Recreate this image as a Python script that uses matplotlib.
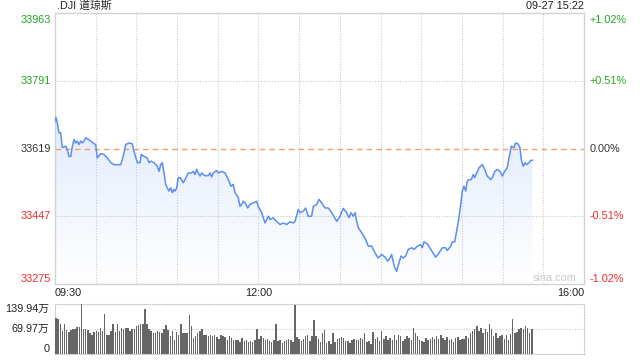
import numpy as np
import matplotlib.pyplot as plt
from matplotlib.colors import LinearSegmentedColormap

plt.rcParams['font.family'] = ['Liberation Sans', 'Noto Sans CJK SC', 'DejaVu Sans']

# --- data ---
title = '.DJI 道琼斯'
stamp = '09-27 15:22'
prev_close = 33619
price_ticks = [33963, 33791, 33619, 33447, 33275]
pct_labels = ['+1.02%', '+0.51%', '0.00%', '-0.51%', '-1.02%']
vol_ticks = [139.94, 69.97, 0]
vol_labels = ['139.94万', '69.97万', '0']
time_ticks = [0, 150, 390]
time_labels = ['09:30', '12:00', '16:00']

# minutes after 09:30
minutes = [0, 0.7, 1.7, 2.9, 4.2, 5.4, 7.9, 9.1, 10.3, 11.6, 12.8, 14.0, 15.3, 16.4, 17.7,
           18.9, 20.1, 21.4, 22.6, 23.8, 26.3, 28.8, 30.0, 31.2, 33.7, 36.1, 38.6, 41.1,
           43.5, 45.9, 48.4, 49.6, 50.9, 52.1, 54.6, 57.0, 58.2, 60.7, 62.7, 63.6, 65.6,
           68.0, 69.3, 70.6, 73.0, 75.4, 76.7, 77.9, 79.1, 80.4, 81.6, 82.8, 84.0, 85.3,
           86.5, 87.7, 88.5, 89.7, 90.9, 92.2, 94.6, 97.1, 98.3, 100.8, 102.0, 103.2,
           104.5, 105.6, 106.9, 108.2, 109.3, 110.6, 113.0, 114.3, 115.5, 116.7, 119.2,
           120.4, 122.9, 125.3, 127.8, 129.8, 131.4, 132.7, 135.1, 136.4, 137.6, 138.8,
           140.1, 142.1, 143.8, 146.2, 148.7, 149.9, 152.4, 154.8, 157.3, 158.5, 160.9,
           163.4, 165.9, 168.3, 170.8, 173.2, 175.7, 176.9, 179.4, 180.6, 183.1, 184.8,
           186.7, 189.2, 190.4, 192.9, 194.6, 196.6, 199.1, 201.5, 204.0, 207.7, 210.1,
           212.5, 215.0, 216.7, 218.2, 219.9, 221.2, 222.4, 223.6, 226.1, 228.5, 231.0,
           233.5, 235.9, 238.3, 240.9, 243.3, 245.3, 247.0, 248.2, 250.1, 251.9, 253.6,
           255.1, 256.8, 258.5, 260.5, 263.0, 264.9, 267.1, 269.6, 270.8, 272.0, 274.5,
           277.0, 279.4, 280.7, 283.1, 285.5, 288.0, 289.2, 291.7, 292.9, 294.7, 296.1,
           297.8, 299.1, 300.3, 301.5, 302.8, 303.9, 305.2, 306.9, 308.4, 309.4, 310.9,
           312.6, 315.0, 316.8, 318.7, 321.2, 322.4, 324.2, 326.1, 328.1, 329.8, 331.5,
           333.4, 334.7, 336.4, 338.4, 339.6, 341.3, 342.8, 343.8, 345.2, 346.5, 347.7,
           349.4, 350.7, 352.0]
prices = [33688, 33698, 33684, 33659, 33659, 33621, 33625, 33616, 33599, 33599, 33625,
          33642, 33633, 33638, 33629, 33638, 33633, 33638, 33646, 33644, 33638, 33631,
          33629, 33595, 33606, 33604, 33595, 33583, 33578, 33578, 33578, 33591, 33608,
          33629, 33633, 33631, 33612, 33583, 33583, 33604, 33599, 33595, 33583, 33587,
          33583, 33574, 33561, 33578, 33583, 33557, 33528, 33519, 33511, 33519, 33507,
          33515, 33511, 33519, 33545, 33545, 33532, 33549, 33557, 33557, 33561, 33553,
          33566, 33557, 33549, 33557, 33553, 33550, 33550, 33557, 33547, 33557, 33563,
          33557, 33561, 33557, 33540, 33523, 33528, 33507, 33494, 33472, 33477, 33485,
          33481, 33468, 33477, 33481, 33485, 33472, 33456, 33430, 33447, 33439, 33443,
          33434, 33426, 33430, 33426, 33433, 33430, 33434, 33464, 33456, 33460, 33468,
          33447, 33447, 33472, 33477, 33490, 33481, 33468, 33468, 33456, 33434, 33447,
          33467, 33456, 33443, 33456, 33447, 33456, 33434, 33418, 33405, 33392, 33371,
          33371, 33354, 33341, 33350, 33343, 33333, 33341, 33350, 33320, 33307, 33329,
          33346, 33341, 33346, 33363, 33367, 33363, 33371, 33375, 33367, 33382, 33377,
          33363, 33350, 33343, 33354, 33367, 33367, 33360, 33371, 33382, 33382, 33409,
          33443, 33477, 33511, 33523, 33511, 33536, 33540, 33540, 33553, 33545, 33557,
          33570, 33578, 33566, 33549, 33540, 33545, 33561, 33566, 33561, 33549, 33561,
          33570, 33595, 33625, 33621, 33633, 33631, 33621, 33591, 33574, 33583, 33578,
          33583, 33589, 33589]

# volume, in 万
volume = [101, 99, 83, 64, 83, 66, 62, 67, 69, 70, 76, 76, 139, 70, 69, 67, 59, 54, 62, 64,
          61, 73, 64, 111, 54, 52, 64, 85, 61, 83, 64, 73, 70, 73, 73, 64, 70, 69, 78, 80,
          85, 83, 127, 83, 69, 64, 59, 59, 64, 61, 59, 69, 80, 66, 50, 64, 40, 61, 52, 83,
          59, 59, 59, 108, 78, 45, 50, 59, 64, 69, 52, 54, 50, 52, 50, 54, 48, 42, 52, 50,
          48, 40, 50, 45, 40, 40, 40, 33, 45, 36, 38, 33, 36, 33, 40, 70, 42, 50, 45, 40,
          42, 36, 33, 40, 85, 36, 40, 31, 36, 40, 42, 38, 33, 136, 48, 42, 36, 42, 50, 52,
          36, 50, 95, 50, 42, 33, 59, 67, 31, 36, 29, 59, 33, 42, 45, 48, 45, 36, 36, 31,
          40, 42, 38, 40, 45, 42, 59, 33, 36, 29, 61, 42, 48, 36, 64, 42, 50, 40, 45, 38,
          54, 40, 52, 50, 36, 42, 50, 45, 40, 73, 59, 50, 40, 36, 33, 45, 40, 42, 48, 42,
          50, 42, 52, 45, 40, 48, 38, 42, 33, 45, 48, 40, 42, 42, 50, 45, 59, 64, 70, 78,
          64, 73, 59, 69, 61, 85, 69, 50, 59, 45, 50, 54, 42, 52, 40, 57, 97, 59, 61, 69,
          73, 69, 78, 73, 59, 69]

GREEN = '#22a822'
RED = '#ee2a2a'
GRID = '#c8c8c8'
FRAME = '#d2d2d2'
TEXT = '#222222'
FS = 7.8

fig = plt.figure(figsize=(6.4, 3.6), dpi=100)
fig.patch.set_facecolor('white')

# --- price panel ---
ax = fig.add_axes([55/640, 1-284/360, 529/640, 271/360])

poly = ax.fill_between(minutes, prices, price_ticks[-1], color='none', lw=0)
cmap = LinearSegmentedColormap.from_list('fade', ['#ffffff', '#e2ebfb'])
grad = np.linspace(0, 1, 256).reshape(-1, 1)
im = ax.imshow(grad, cmap=cmap, origin='lower', aspect='auto',
               extent=[0, 390, price_ticks[-1], max(prices)], zorder=1)
im.set_clip_path(poly.get_paths()[0], transform=ax.transData)
ax.set_xlim(0, 390)
ax.set_ylim(price_ticks[-1], price_ticks[0])

for t in range(30, 390, 30):
    ax.axvline(t, color=GRID, lw=0.8, ls=(0, (1, 1.5)), zorder=2)
for p in [price_ticks[1], price_ticks[3]]:
    ax.axhline(p, color=GRID, lw=0.8, ls=(0, (1, 1.5)), zorder=2)
ax.axhline(prev_close, color='#f0a070', lw=1, ls=(0, (4, 3)), zorder=2)

ax.plot(minutes, prices, color='#5a8ff0', lw=1.1, zorder=3)

ax.set_xticks([])
ax.set_yticks([])
for s in ax.spines.values():
    s.set_color(FRAME)
    s.set_linewidth(1)

label_colors = [GREEN, GREEN, '#333333', RED, RED]
valign = ['top', 'center', 'center', 'center', 'bottom']
yoff = [-1.5, 0, 0, 0, 0]
for p, pl, c, va, dy in zip(price_ticks, pct_labels, label_colors, valign, yoff):
    ax.annotate(str(p), xy=(0, p), xycoords=('axes fraction', 'data'),
                xytext=(-3, dy), textcoords='offset points',
                color=c, fontsize=FS, ha='right', va=va)
    ax.annotate(pl, xy=(1, p), xycoords=('axes fraction', 'data'),
                xytext=(4, dy), textcoords='offset points',
                color=c, fontsize=FS, ha='left', va=va)

ax.annotate(time_labels[0], xy=(0, 0), xycoords='axes fraction', xytext=(0, -3),
            textcoords='offset points', ha='left', va='top', fontsize=FS, color=TEXT)
ax.annotate(time_labels[1], xy=(time_ticks[1], 0), xycoords=('data', 'axes fraction'),
            xytext=(0, -3), textcoords='offset points', ha='center', va='top',
            fontsize=FS, color=TEXT)
ax.annotate(time_labels[2], xy=(1, 0), xycoords='axes fraction', xytext=(0, -3),
            textcoords='offset points', ha='right', va='top', fontsize=FS, color=TEXT)

ax.text(0.003, 1.008, title, transform=ax.transAxes, ha='left', va='bottom',
        fontsize=FS, color=TEXT)
ax.text(1, 1.008, stamp, transform=ax.transAxes, ha='right', va='bottom',
        fontsize=FS, color=TEXT)
ax.text(0.945, 0.022, 'sina.com', transform=ax.transAxes, ha='center', va='center',
        fontsize=FS, color='#c8c8c8', zorder=4)

# --- volume panel ---
vx = fig.add_axes([55/640, 1-354/360, 529/640, 50/360])
vx.set_xlim(0, 390)
vx.set_ylim(0, vol_ticks[0])
pos = np.linspace(0.8, 351.5, len(volume))
step = pos[1] - pos[0]
vx.bar(pos, volume, width=step*0.7, color='#666666', zorder=3)
vx.axhline(vol_ticks[1], color=GRID, lw=0.8, ls=(0, (1, 1.5)), zorder=1)
vx.set_xticks([])
vx.set_yticks([])
for s in vx.spines.values():
    s.set_color(GRID)
    s.set_linewidth(0.8)
    s.set_linestyle((0, (1, 1.5)))
for v, lab, va in zip(vol_ticks, vol_labels, ['top', 'center', 'bottom']):
    vx.annotate(lab, xy=(0, v), xycoords=('axes fraction', 'data'),
                xytext=(-4, 0), textcoords='offset points',
                ha='right', va=va, fontsize=FS, color=TEXT)

fig.savefig('out.png', dpi=100, facecolor='white')
